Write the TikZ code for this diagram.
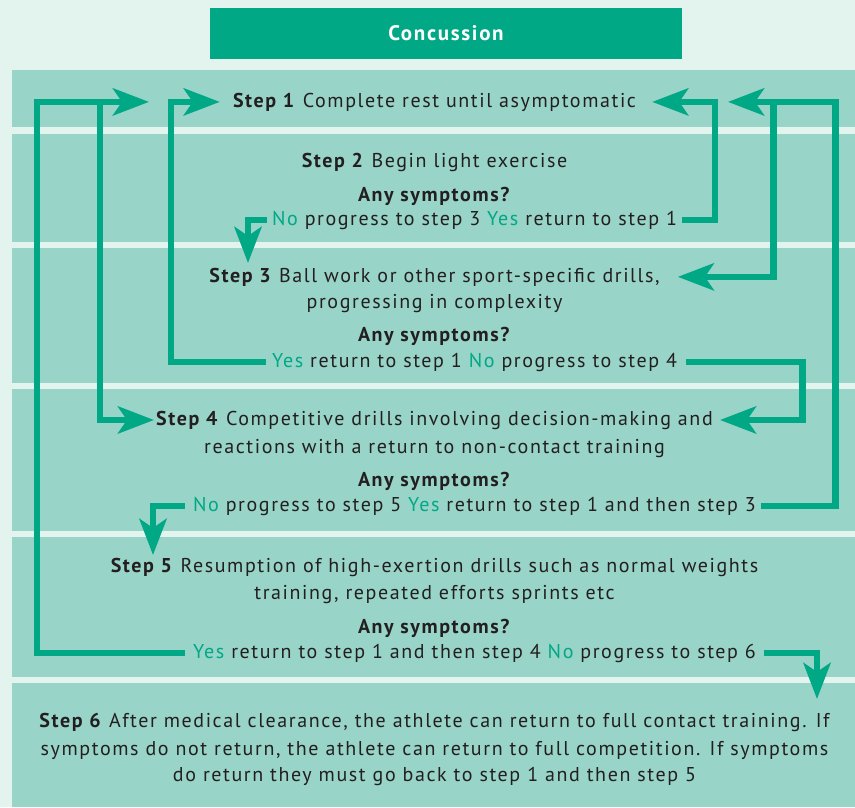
\documentclass[tikz,border=0pt]{standalone}
\usepackage{fontspec}
\setmainfont{PT Sans}[LetterSpace=8]
\usetikzlibrary{arrows.meta}
\definecolor{bgc}{HTML}{E3F3EE}
\definecolor{band}{HTML}{98D4C8}
\definecolor{grn}{HTML}{00A886}
\definecolor{ink}{HTML}{231F20}
\newcommand\myTxtFont{\fontsize{20}{27}\selectfont}
\begin{document}
\begin{tikzpicture}[x=1pt,y=-1pt,
  txt/.style={inner sep=0pt, anchor=base, text=ink, font=\myTxtFont},
  conn/.style={draw=grn, line width=6.5pt},
  arr/.style={conn, -{Stealth[length=36pt,width=27pt,inset=9pt]}},
  bandbox/.style={fill=band, draw=none}]
\useasboundingbox (0,0) rectangle (855,807);
\fill[bgc] (0,0) rectangle (855,807);
% bands
\fill[bandbox] (12,70) rectangle (855,127);
\fill[bandbox] (12,134) rectangle (855,242);
\fill[bandbox] (12,248) rectangle (855,383);
\fill[bandbox] (12,389) rectangle (855,531);
\fill[bandbox] (12,537) rectangle (855,677);
\fill[bandbox] (12,683) rectangle (855,807);
% title
\node[fill=grn, minimum width=472pt, minimum height=51pt, inner sep=0pt, text=white,
  font=\bfseries\fontsize{21}{25}\selectfont] (title) at (446,33.5) {Concussion};
% texts
\node[txt] (s1) at (434.5,107) {\textbf{Step 1} Complete rest until asymptomatic};
\node[txt] (s2) at (434.5,167) {\textbf{Step 2} Begin light exercise};
\node[txt] (q2) at (434.5,201) {\textbf{Any symptoms?}};
\node[txt] (a2) at (474.5,225) {\textcolor{grn}{No} progress to step 3 \textcolor{grn}{Yes} return to step 1};
\node[txt] (s3a) at (434.5,282) {\textbf{Step 3} Ball work or other sport-specific drills,};
\node[txt] (s3b) at (434.5,308) {progressing in complexity};
\node[txt] (q3) at (434.5,341) {\textbf{Any symptoms?}};
\node[txt] (a3) at (474.5,367) {\textcolor{grn}{Yes} return to step 1 \textcolor{grn}{No} progress to step 4};
\node[txt] (s4a) at (434.5,425) {\textbf{Step 4} Competitive drills involving decision-making and};
\node[txt] (s4b) at (434.5,453) {reactions with a return to non-contact training};
\node[txt] (q4) at (434.5,486) {\textbf{Any symptoms?}};
\node[txt] (a4) at (474.5,511) {\textcolor{grn}{No} progress to step 5 \textcolor{grn}{Yes} return to step 1 and then step 3};
\node[txt] (s5a) at (434.5,572) {\textbf{Step 5} Resumption of high-exertion drills such as normal weights};
\node[txt] (s5b) at (434.5,599) {training, repeated efforts sprints etc};
\node[txt] (q5) at (434.5,633) {\textbf{Any symptoms?}};
\node[txt] (a5) at (474.5,658) {\textcolor{grn}{Yes} return to step 1 and then step 4 \textcolor{grn}{No} progress to step 6};
\node[txt] (s6a) at (434.5,727) {\textbf{Step 6} After medical clearance, the athlete can return to full contact training. If};
\node[txt] (s6b) at (434.5,755) {symptoms do not return, the athlete can return to full competition. If symptoms};
\node[txt] (s6c) at (434.5,781) {do return they must go back to step 1 and then step 5};
% column coordinates
\coordinate (xL1) at (37,0);
\coordinate (xL2) at (100,0);
\coordinate (xL3) at (171,0);
\coordinate (xR1) at (715,0);
\coordinate (xR2) at (773.5,0);
\coordinate (xR3) at (835.5,0);
\coordinate (xR4) at (802.5,0);
\coordinate (t1o) at (149,0);
\coordinate (t1ro) at (728,0);
\coordinate (t3d) at (248,263);
\coordinate (t5d) at (153,555);
\coordinate (t6d) at (817,699);
% connectors
\draw[arr] ([xshift=-8pt]a5.west) -| (xL1 |- s1) -- (t1o |- s1);
\draw[arr] (xL2 |- s1) -- (xL2 |- s4a) -- ([xshift=-2pt]s4a.west);
\draw[arr] ([xshift=-6pt]a3.west) -| (xL3 |- s1) -- ([xshift=-13pt]s1.west);
\draw[arr] ([xshift=5pt]a2.east) -| (xR1 |- s1) -- ([xshift=16pt]s1.east);
\draw[arr] ([xshift=5pt]a4.east) -| (xR3 |- s1) -- (t1ro |- s1);
\draw[arr] (xR2 |- s1) -- (xR2 |- s3a) -- ([xshift=18pt]s3a.east);
\draw[arr] ([xshift=9pt]a3.east) -| (xR4 |- s4a) -- ([xshift=7pt]s4a.east);
\draw[arr] ([xshift=-5pt]a2.west) -| (t3d);
\draw[arr] ([xshift=-8pt]a4.west) -| (t5d);
\draw[arr] ([xshift=8pt]a5.east) -| (t6d);
\end{tikzpicture}
\end{document}
